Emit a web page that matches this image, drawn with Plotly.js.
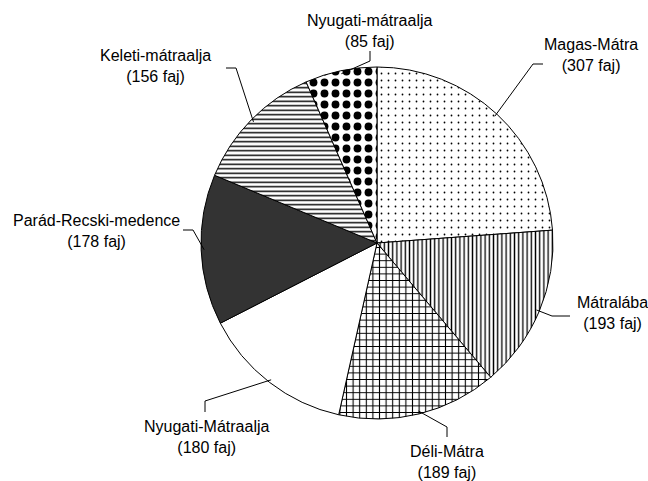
<!DOCTYPE html>
<html>
<head>
<meta charset="utf-8">
<script src="https://cdn.plot.ly/plotly-3.0.1.min.js"></script>
<style>html,body{margin:0;padding:0;background:#fff;}#chart{width:648px;height:481px;}</style>
</head>
<body>
<div id="chart"></div>
<script>
// Data
var regions = ["Magas-Mátra", "Mátralába", "Déli-Mátra", "Nyugati-Mátraalja", "Parád-Recski-medence", "Keleti-mátraalja", "Nyugati-mátraalja"];
var species = [307, 193, 189, 180, 178, 156, 85];
var unitLabel = "faj";

// Style
var W = 648, H = 481;
var CX = 377, CY = 243, R = 176;
var sliceColors = ["#ffffff", "#ffffff", "#ffffff", "#ffffff", "#333333", "#ffffff", "#ffffff"];
var patShapes = [".", "|", "+", "", "", "-", "."];
var patSizes = [7, 4.2, 6.6, 8, 8, 4.5, 11];
var patSolid = [0.05, 0.32, 0.3, 0.3, 0.3, 0.32, 0.4];
// label layout (pixels): elbow point, end point, text centre
var elbows = [[533, 64], [552, 316], [447, 427], [205, 401], [193, 230], [236, 68], [370, 61]];
var ends = [[543, 64], [570, 316], [447, 437], [205, 412], [183, 230], [226, 68], [370, 51]];
var textPos = [[591, 55], [612, 313], [447, 462], [206, 437], [96, 231], [155, 66], [369, 31]];

function px(x) { return x / W; }
function py(y) { return 1 - y / H; }

var total = species.reduce(function (a, b) { return a + b; }, 0);
var shapes = [], annotations = [];
var cum = 0;
for (var i = 0; i < species.length; i++) {
  var theta = (cum + species[i] / 2) / total * 2 * Math.PI;
  cum += species[i];
  var rr = R - 3;
  var ex = CX + rr * Math.sin(theta), ey = CY - rr * Math.cos(theta);
  shapes.push({
    type: "path", xref: "paper", yref: "paper",
    path: "M" + px(ex) + "," + py(ey) + " L" + px(elbows[i][0]) + "," + py(elbows[i][1]) + " L" + px(ends[i][0]) + "," + py(ends[i][1]),
    line: { color: "#000", width: 1 }
  });
  annotations.push({
    xref: "paper", yref: "paper", x: px(textPos[i][0]), y: py(textPos[i][1]),
    xanchor: "center", yanchor: "middle", showarrow: false,
    text: regions[i] + "<br>(" + species[i] + " " + unitLabel + ")",
    font: { family: "Arial, 'Liberation Sans', sans-serif", size: 16, color: "#000" }
  });
}

var trace = {
  type: "pie",
  labels: regions,
  values: species,
  sort: false,
  direction: "clockwise",
  rotation: 0,
  textinfo: "none",
  hoverinfo: "label+value",
  showlegend: false,
  domain: { x: [px(CX - R), px(CX + R)], y: [py(CY + R), py(CY - R)] },
  marker: {
    colors: sliceColors,
    line: { color: "#000", width: 1 },
    pattern: {
      shape: patShapes,
      fgcolor: "#000",
      bgcolor: sliceColors,
      size: patSizes,
      solidity: patSolid,
      fillmode: "replace"
    }
  }
};

var layout = {
  width: W, height: H,
  margin: { l: 0, r: 0, t: 0, b: 0 },
  paper_bgcolor: "#fff",
  plot_bgcolor: "#fff",
  shapes: shapes,
  annotations: annotations
};

Plotly.newPlot("chart", [trace], layout, { displayModeBar: false, staticPlot: true });
</script>
</body>
</html>
